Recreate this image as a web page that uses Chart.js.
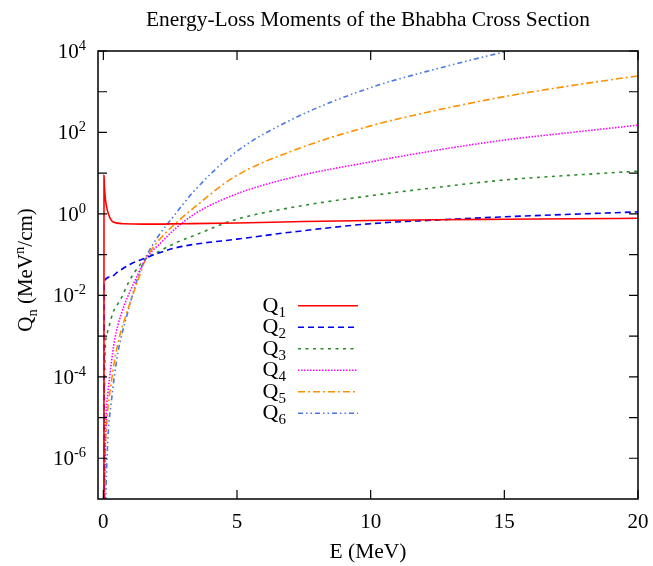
<!DOCTYPE html>
<html>
<head>
<meta charset="utf-8">
<title>Energy-Loss Moments of the Bhabha Cross Section</title>
<script src="https://cdn.jsdelivr.net/npm/chart.js@4/dist/chart.umd.min.js"></script>
<style>
  html, body { margin: 0; padding: 0; background: #fff; }
</style>
</head>
<body>
<canvas id="chart" width="653" height="566"></canvas>
<script>
// Moments Q_n(E) of the Bhabha energy-loss distribution, n = 1..6
const E1 = [0.02, 0.025, 0.04, 0.065, 0.1, 0.19, 0.37, 0.75, 1.5, 3, 5, 7.5, 10, 12.5, 15, 17.5, 20];
const Q1 = [1e-9, 8.9, 5.0, 2.8, 1.8, 1.0, 0.63, 0.575, 0.56, 0.575, 0.60, 0.65, 0.69, 0.72, 0.74, 0.76, 0.78];

const E2 = [0.02, 0.03, 0.25, 0.55, 1.04, 1.55, 2.16, 2.67, 3.42, 5, 7, 10, 12.5, 15, 17.5, 20];
const Q2 = [1e-9, 0.021, 0.028, 0.038, 0.060, 0.081, 0.115, 0.145, 0.18, 0.24, 0.355, 0.575, 0.71, 0.85, 0.98, 1.12];

const E3 = [0.02, 0.035, 0.05, 0.075, 0.15, 0.25, 0.36, 0.55, 0.69, 0.93, 1.18, 1.56, 2.18, 2.67, 3.42, 4.9, 7.15, 10, 12.5, 15, 17.5, 20];
const Q3 = [1e-9, 1e-5, 1.26e-4, 5.6e-4, 1.2e-3, 2.1e-3, 3.8e-3, 6.3e-3, 9.1e-3, 0.020, 0.038, 0.076, 0.13, 0.19, 0.30, 0.71, 1.48, 2.8, 4.5, 6.8, 8.9, 11.2];

const E4 = [0.02, 0.04, 0.07, 0.11, 0.17, 0.28, 0.42, 0.67, 0.9, 1.17, 1.56, 2.2, 2.67, 3.42, 4.9, 7.15, 10, 12.5, 15, 17.5, 20];
const Q4 = [1e-10, 3.2e-8, 1.6e-6, 1.4e-5, 4.0e-5, 1.74e-4, 7.9e-4, 3.5e-3, 8.9e-3, 0.022, 0.074, 0.21, 0.42, 1.0, 2.95, 8.1, 19, 37, 65, 100, 151];

const E5 = [0.02, 0.04, 0.06, 0.12, 0.17, 0.24, 0.3, 0.42, 0.61, 0.86, 1.04, 1.3, 1.55, 1.79, 2.16, 2.67, 3.42, 4.9, 7.15, 10, 12.5, 15, 17.5, 20];
const Q5 = [1e-10, 3.2e-8, 6.3e-7, 6.3e-6, 1.7e-5, 4.0e-5, 7.6e-5, 2.5e-4, 1.0e-3, 3.5e-3, 7.9e-3, 0.024, 0.069, 0.13, 0.26, 0.56, 1.48, 8.1, 37, 145, 355, 760, 1410, 2450];

const E6 = [0.02, 0.06, 0.1, 0.13, 0.19, 0.3, 0.42, 0.55, 0.67, 0.92, 1.2, 1.55, 2.0, 2.67, 3.42, 4.9, 7.15, 10, 12.5, 15, 16];
const Q6 = [1e-10, 1e-8, 1.6e-7, 7.9e-7, 5.0e-6, 2.5e-5, 1.12e-4, 4.1e-4, 9.5e-4, 4.0e-3, 0.018, 0.076, 0.25, 0.95, 3.8, 31, 224, 1260, 3700, 9500, 13500];

const seriesNames = ['1', '2', '3', '4', '5', '6'];
const xTicks = [0, 5, 10, 15, 20];
const yTickExponents = [4, 3, 2, 1, 0, -1, -2, -3, -4, -5, -6];
const yLabelExponents = [4, 2, 0, -2, -4, -6];

const FONT = '"Liberation Serif", "Times New Roman", serif';

function toPoints(xs, ys) {
  return xs.map((x, i) => ({ x: x, y: ys[i] }));
}

const styles = [
  { color: '#ff0000', dash: [] },
  { color: '#0000f0', dash: [6, 4] },
  { color: '#2a8a2a', dash: [3, 4.5] },
  { color: '#ff00ff', dash: [1.5, 1.5] },
  { color: '#ff9000', dash: [7, 3, 2, 3] },
  { color: '#4a78e6', dash: [5, 3, 1.5, 3, 1.5, 3] }
];

const seriesData = [[E1, Q1], [E2, Q2], [E3, Q3], [E4, Q4], [E5, Q5], [E6, Q6]];

const datasets = seriesData.map((s, i) => ({
  label: 'Q' + seriesNames[i],
  data: toPoints(s[0], s[1]),
  borderColor: styles[i].color,
  borderDash: styles[i].dash,
  borderWidth: 1.6,
  pointRadius: 0,
  fill: false,
  cubicInterpolationMode: 'monotone'
}));

// draws a run of text pieces, each with its own size and vertical shift
function drawRich(ctx, parts, x, y, align) {
  let total = 0;
  parts.forEach(p => {
    ctx.font = p[1] + 'px ' + FONT;
    p.w = ctx.measureText(p[0]).width;
    total += p.w;
  });
  let cx = align === 'right' ? x - total : align === 'center' ? x - total / 2 : x;
  parts.forEach(p => {
    ctx.font = p[1] + 'px ' + FONT;
    ctx.fillText(p[0], cx, y + p[2]);
    cx += p.w;
  });
}

// gnuplot-style frame: box, inward ticks on all sides, labels, legend
const framePlugin = {
  id: 'frame',
  afterDraw(chart) {
    const ctx = chart.ctx;
    const a = chart.chartArea;
    const xs = chart.scales.x;
    const ys = chart.scales.y;
    const tickLen = 9;

    ctx.save();
    ctx.strokeStyle = '#000';
    ctx.fillStyle = '#000';
    ctx.lineWidth = 1.5;
    ctx.setLineDash([]);
    ctx.strokeRect(a.left, a.top, a.right - a.left, a.bottom - a.top);

    ctx.lineWidth = 1.2;
    ctx.beginPath();
    xTicks.forEach(v => {
      const px = xs.getPixelForValue(v);
      ctx.moveTo(px, a.bottom); ctx.lineTo(px, a.bottom - tickLen);
      ctx.moveTo(px, a.top); ctx.lineTo(px, a.top + tickLen);
    });
    yTickExponents.forEach(e => {
      const py = ys.getPixelForValue(Math.pow(10, e));
      ctx.moveTo(a.left, py); ctx.lineTo(a.left + tickLen, py);
      ctx.moveTo(a.right, py); ctx.lineTo(a.right - tickLen, py);
    });
    ctx.stroke();

    ctx.textBaseline = 'alphabetic';
    ctx.textAlign = 'left';
    xTicks.forEach(v => {
      drawRich(ctx, [[String(v), 21, 0]], xs.getPixelForValue(v), a.bottom + 29, 'center');
    });
    yLabelExponents.forEach(e => {
      const py = ys.getPixelForValue(Math.pow(10, e));
      drawRich(ctx, [['10', 21, 0], [String(e), 14.5, -8]], a.left - 12, py + 7, 'right');
    });

    // title and axis titles
    drawRich(ctx, [['Energy-Loss Moments of the Bhabha Cross Section', 21.4, 0]], (a.left + a.right) / 2, 26, 'center');
    drawRich(ctx, [['E (MeV)', 21.5, 0]], (a.left + a.right) / 2, 558, 'center');
    ctx.save();
    ctx.translate(32, 270);
    ctx.rotate(-Math.PI / 2);
    drawRich(ctx, [['Q', 21, 0], ['n', 14.5, 5], [' (MeV', 21, 0], ['n', 14.5, -8], ['/cm)', 21, 0]], 0, 0, 'center');
    ctx.restore();

    // legend
    chart.data.datasets.forEach((ds, i) => {
      const rowY = 305.7 + i * 21.5;
      drawRich(ctx, [['Q', 22, 0], [seriesNames[i], 15, 5]], 286, rowY + 6, 'right');
      ctx.beginPath();
      ctx.strokeStyle = ds.borderColor;
      ctx.lineWidth = ds.borderWidth;
      ctx.setLineDash(ds.borderDash);
      ctx.moveTo(298, rowY);
      ctx.lineTo(358, rowY);
      ctx.stroke();
    });
    ctx.restore();
  }
};

new Chart(document.getElementById('chart'), {
  type: 'line',
  data: { datasets: datasets },
  options: {
    responsive: false,
    animation: false,
    devicePixelRatio: 1,
    layout: { padding: { left: 98, right: 15, top: 51, bottom: 67 } },
    plugins: { legend: { display: false }, title: { display: false }, tooltip: { enabled: false } },
    scales: {
      x: { type: 'linear', min: -0.2, max: 20, bounds: 'data', display: false },
      y: { type: 'logarithmic', min: 1e-7, max: 1e4, display: false }
    }
  },
  plugins: [framePlugin]
});
</script>
</body>
</html>
